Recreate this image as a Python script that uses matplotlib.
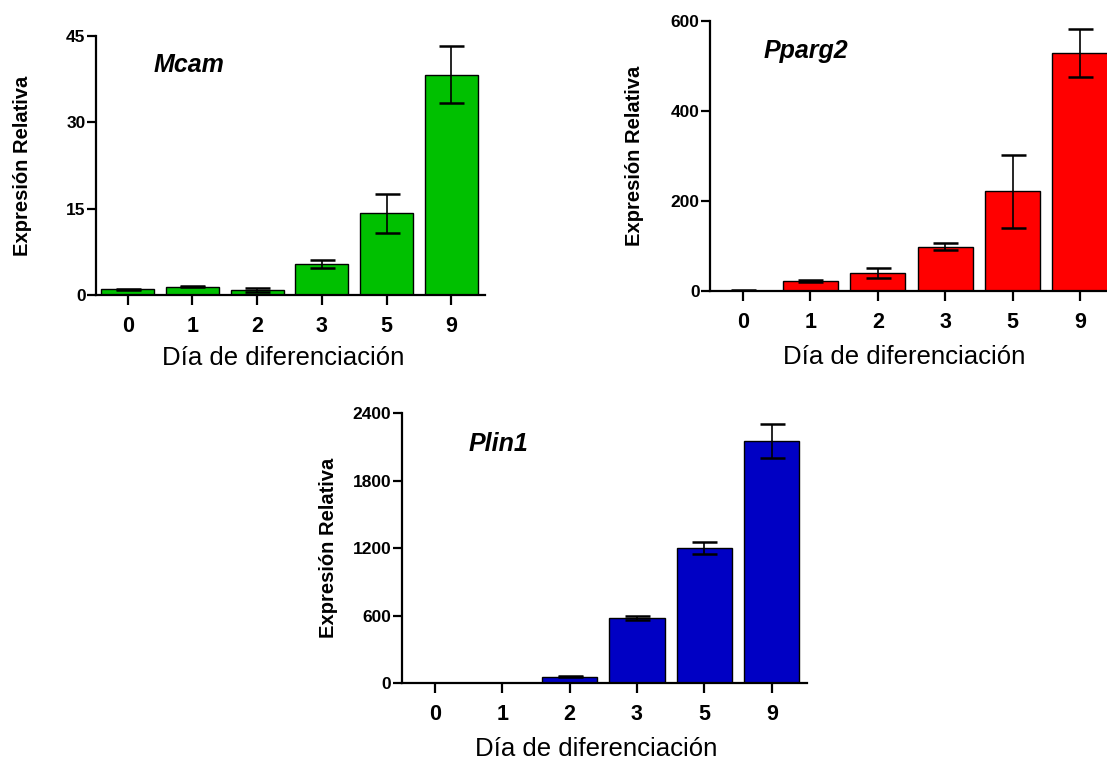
import numpy as np
import matplotlib.pyplot as plt

days = ['0', '1', '2', '3', '5', '9']

# Mcam
mcam = [1.0, 1.45, 0.9, 5.4, 14.2, 38.3]
mcam_err = [0.05, 0.05, 0.3, 0.75, 3.4, 5.0]

# Pparg2
pparg2 = [1.0, 22, 39, 98, 221, 528]
pparg2_err = [0.2, 2.5, 11, 8, 81, 53]

# Plin1
plin1 = [1.0, 2.0, 59, 581, 1203, 2154]
plin1_err = [0.1, 0.2, 4, 16, 53, 154]

plt.rcParams['font.family'] = ['Liberation Sans', 'DejaVu Sans']

fig = plt.figure(figsize=(11.07, 7.6), dpi=100)

panels = [
    ([0.0867, 0.6118, 0.3514, 0.3408], mcam, mcam_err, '#00c000', 'Mcam',
     [0, 15, 30, 45], 45, 0.147, -0.165),
    ([0.6414, 0.6171, 0.3659, 0.3557], pparg2, pparg2_err, '#ff0000', 'Pparg2',
     [0, 200, 400, 600], 600, 0.131, -0.163),
    ([0.3629, 0.1009, 0.3659, 0.3553], plin1, plin1_err, '#0000c4', 'Plin1',
     [0, 600, 1200, 1800, 2400], 2400, 0.166, -0.157),
]

for rect, vals, errs, color, name, yt, ymax, tx, ylx in panels:
    ax = fig.add_axes(rect)
    x = np.arange(len(days))
    ax.bar(x, vals, width=0.82, color=color, edgecolor='black', linewidth=1.0)
    ax.errorbar(x, vals, yerr=errs, fmt='none', ecolor='black',
                elinewidth=1.2, capsize=9, capthick=1.8)
    ax.set_xlim(-0.49, 5.52)
    ax.set_ylim(0, ymax)
    ax.set_yticks(yt)
    ax.set_xticks(x)
    ax.set_xticklabels(days, fontsize=15.5, fontweight='bold')
    for lab in ax.get_yticklabels():
        lab.set_fontweight('bold')
        lab.set_fontsize(12.5)
    ax.spines['top'].set_visible(False)
    ax.spines['right'].set_visible(False)
    ax.spines['left'].set_linewidth(1.6)
    ax.spines['bottom'].set_linewidth(1.6)
    ax.tick_params(axis='x', length=7, width=1.6, pad=8)
    ax.tick_params(axis='y', length=6.5, width=1.6, pad=1)
    ax.set_ylabel('Expresión Relativa', fontsize=14.5, fontweight='bold')
    ax.yaxis.set_label_coords(ylx, 0.5)
    ax.set_xlabel('Día de diferenciación', fontsize=18.5)
    ax.xaxis.set_label_coords(0.48, -0.198)
    ax.text(tx, 0.862, name, transform=ax.transAxes, fontsize=18,
            fontweight='bold', fontstyle='italic', va='baseline', ha='left')

fig.savefig('out.png', dpi=100)
